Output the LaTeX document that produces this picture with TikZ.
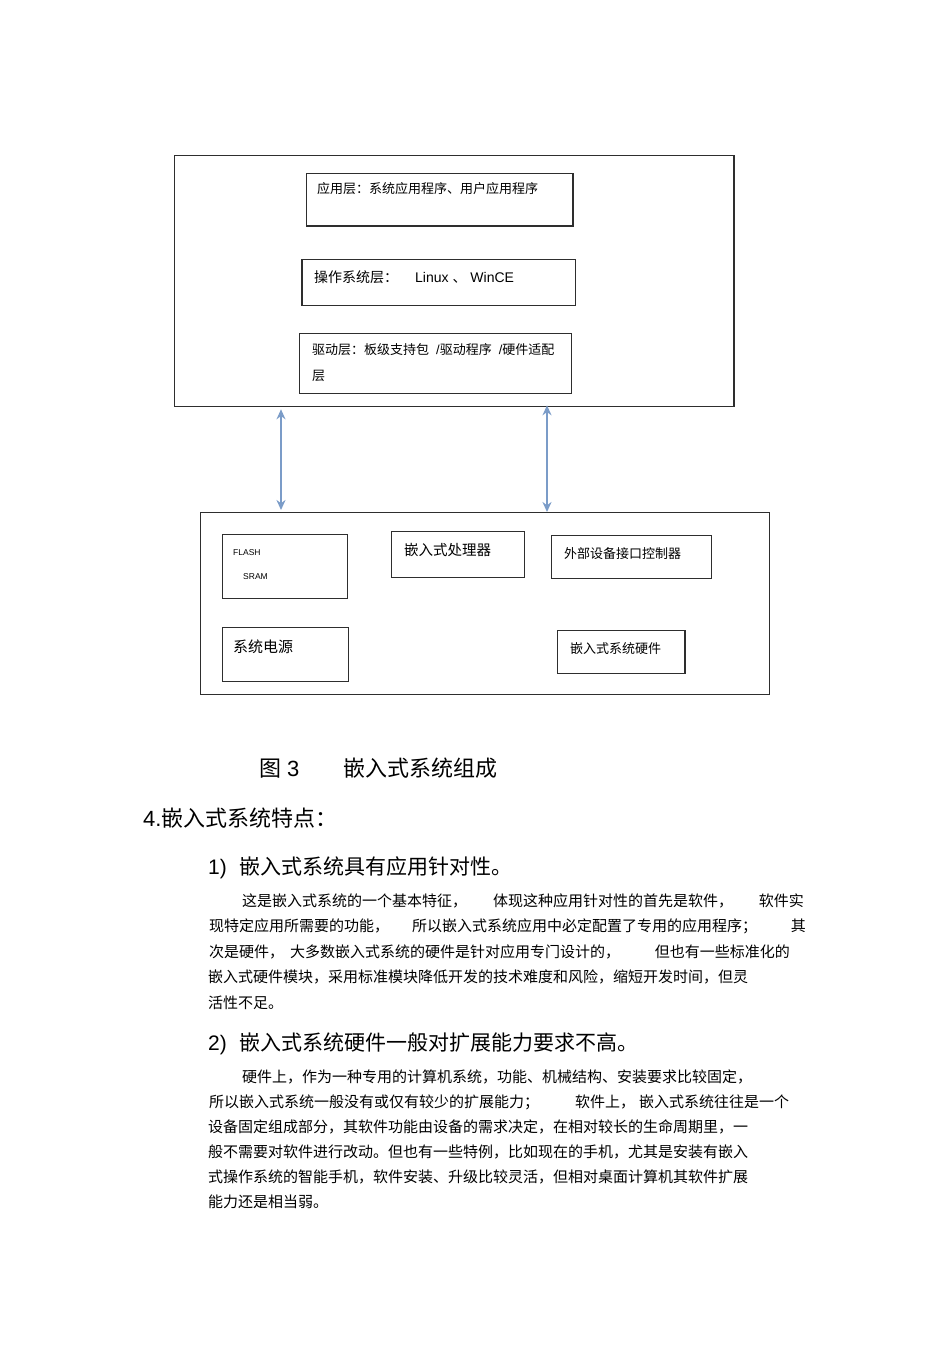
\documentclass[tikz,border=0pt]{standalone}
\usepackage{fontspec}
\setmainfont{Liberation Sans}
\newfontfamily\cjk{Noto Sans CJK SC}
\usepackage{xcolor}
\usetikzlibrary{arrows.meta,positioning}
\definecolor{busblue}{HTML}{7B9CC8}
\definecolor{inkgray}{HTML}{2E2E2E}

\begin{document}
\begin{tikzpicture}[x=1pt, y=-1pt, >={Stealth[length=10pt,width=9pt]},
    box/.style={draw=inkgray, line width=1.3pt, anchor=north west, inner sep=0pt},
    edge/.style={draw=inkgray, line width=2.2pt},
    lbl/.style={anchor=base west, inner sep=0pt, font=\cjk\fontsize{13}{15}\selectfont},
    body/.style={anchor=base west, inner sep=0pt, font=\cjk\fontsize{15}{18}\selectfont},
    head/.style={anchor=base west, inner sep=0pt, font=\fontsize{21}{25}\selectfont},
    bus/.style={<->, draw=busblue, line width=2pt}]
    \useasboundingbox (0,0) rectangle (950,1345);

    % software side
    \node[box, minimum width=559pt, minimum height=251pt] (sw) at (174,155) {};
    \node[box, minimum width=266pt, minimum height=52pt] (app) at (306,173) {};
    \node[box, minimum width=273pt, minimum height=46pt] (os) at (302,259) {};
    \node[box, minimum width=272pt, minimum height=60pt] (drv) at (299,333) {};
    \draw[edge] (sw.north east) -- (sw.south east);
    \draw[edge] (app.north east) -- (app.south east) -- (app.south west);
    \draw[edge] (os.north west) -- (os.south west);
    \node[lbl] (appT) at (317,193) {应用层：系统应用程序、用户应用程序};
    \node[lbl, font=\fontsize{14}{17}\selectfont] (osT) at (314,282) {{\cjk 操作系统层：}\hspace{17pt}Linux {\cjk 、} WinCE};
    \node[lbl] (drvT) at (312,354) {驱动层：板级支持包\hspace{7pt}{\fontspec{Liberation Sans}/}驱动程序\hspace{7pt}{\fontspec{Liberation Sans}/}硬件适配};
    \node[lbl] (drvT2) at (312,380) {层};

    % hardware side
    \node[box, minimum width=569pt, minimum height=182pt] (hw) at (200,512) {};
    \node[box, minimum width=125pt, minimum height=64pt] (mem) at (222,534) {};
    \node[box, minimum width=133pt, minimum height=46pt] (cpu) at (391,531) {};
    \node[box, minimum width=160pt, minimum height=43pt] (ext) at (551,535) {};
    \node[box, minimum width=126pt, minimum height=54pt] (pwr) at (222,627) {};
    \node[box, minimum width=127pt, minimum height=43pt] (emb) at (557,630) {};
    \draw[edge] (emb.north east) -- (emb.south east);
    \node[lbl, font=\fontsize{8.5}{10}\selectfont] (flashT) at (233,555) {FLASH};
    \node[lbl, font=\fontsize{8.5}{10}\selectfont] (sramT) at (243,579) {SRAM};
    \node[lbl, font=\cjk\fontsize{14.5}{17}\selectfont] (cpuT) at (404,555.5) {嵌入式处理器};
    \node[lbl] (extT) at (564,558) {外部设备接口控制器};
    \node[lbl, font=\cjk\fontsize{15}{18}\selectfont] (pwrT) at (233,652.5) {系统电源};
    \node[lbl] (embT) at (570,653) {嵌入式系统硬件};

    % buses between the two layers
    \coordinate (busL) at (281,0);
    \coordinate (busR) at (547,0);
    \draw[bus, shorten <=2pt, shorten >=2pt] (sw.south -| busL) -- (hw.north -| busL);
    \draw[bus] ([yshift=2pt]sw.south -| busR) -- (hw.north -| busR);

    % caption and text below
    \node[head, font=\fontsize{22}{26}\selectfont] (cap) at (259,776) {{\cjk 图}\hspace{6pt}3\hspace{44pt}{\cjk 嵌入式系统组成}};
    \node[head, font=\fontsize{22}{26}\selectfont] (sec4) at (143,826.5) {4.{\cjk 嵌入式系统特点：}};
    \node[head] (it1) at (208,874) {1)\hspace{12.3pt}{\cjk 嵌入式系统具有应用针对性。}};

    \node[body] (p1a) at (242,906) {这是嵌入式系统的一个基本特征，};
    \node[body] (p1b) at (493,906) {体现这种应用针对性的首先是软件，};
    \node[body, anchor=base east] (p1c) at (804,906) {软件实};
    \node[body] (p2a) at (209,931.5) {现特定应用所需要的功能，};
    \node[body] (p2b) at (412,931.5) {所以嵌入式系统应用中必定配置了专用的应用程序；};
    \node[body, anchor=base east] (p2c) at (806,931.5) {其};
    \node[body] (p3a) at (209,957) {次是硬件，};
    \node[body] (p3b) at (290,957) {大多数嵌入式系统的硬件是针对应用专门设计的，};
    \node[body, anchor=base east] (p3c) at (790,957) {但也有一些标准化的};
    \node[body] (p4) at (208,982.5) {嵌入式硬件模块，采用标准模块降低开发的技术难度和风险，缩短开发时间，但灵};
    \node[body] (p5) at (208,1008) {活性不足。};

    \node[head] (it2) at (208,1050) {2)\hspace{12.3pt}{\cjk 嵌入式系统硬件一般对扩展能力要求不高。}};

    \node[body] (q1) at (242,1082) {硬件上，作为一种专用的计算机系统，功能、机械结构、安装要求比较固定，};
    \node[body] (q2a) at (209,1107) {所以嵌入式系统一般没有或仅有较少的扩展能力；};
    \node[body] (q2b) at (575,1107) {软件上，};
    \node[body] (q2c) at (639,1107) {嵌入式系统往往是一个};
    \node[body] (q3) at (208,1132) {设备固定组成部分，其软件功能由设备的需求决定，在相对较长的生命周期里，一};
    \node[body] (q4) at (208,1157) {般不需要对软件进行改动。但也有一些特例，比如现在的手机，尤其是安装有嵌入};
    \node[body] (q5) at (208,1182) {式操作系统的智能手机，软件安装、升级比较灵活，但相对桌面计算机其软件扩展};
    \node[body] (q6) at (208,1207) {能力还是相当弱。};
\end{tikzpicture}
\end{document}
